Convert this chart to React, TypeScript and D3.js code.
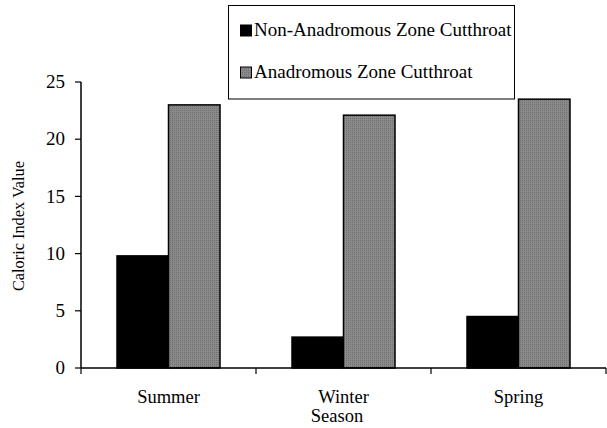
import React from "react";
import * as d3 from "d3";

const seasons = ["Summer", "Winter", "Spring"];
const seriesNames = ["Non-Anadromous Zone Cutthroat", "Anadromous Zone Cutthroat"];
const nonAnadromous = [9.8, 2.7, 4.5];
const anadromous = [23.0, 22.1, 23.5];
const yTicks = [0, 5, 10, 15, 20, 25];

const W = 607, H = 428;
const left = 81, right = 606, top = 82, bottom = 368;
const fontStyle = { fontFamily: '"Liberation Serif", "Times New Roman", serif' };

export default function App() {
  const x = d3.scaleBand<string>().domain(seasons).range([left, right]).paddingInner(0).paddingOuter(0);
  const y = d3.scaleLinear().domain([0, 25]).range([bottom, top]);
  const barW = 51.5;
  const series = [nonAnadromous, anadromous];
  const fills = ["#000", "url(#dots)"];
  return (
    <svg width={W} height={H} style={{ position: "absolute", left: 0, top: 0, background: "#fff" }}>
      <defs>
        <pattern id="dots" width="2" height="2" patternUnits="userSpaceOnUse">
          <rect width="2" height="2" fill="#8a8a8a" />
          <rect width="1" height="1" fill="#707070" />
        </pattern>
      </defs>
      {series.map((vals, si) =>
        seasons.map((s, i) => {
          const cx = (x(s) as number) + x.bandwidth() / 2;
          const x0 = cx - barW + si * barW;
          return (
            <rect key={si + "-" + i} x={x0} y={y(vals[i])} width={barW} height={bottom - y(vals[i])}
              fill={fills[si]} stroke="#000" strokeWidth={1.5} />
          );
        })
      )}
      <line x1={left} x2={left} y1={top} y2={bottom} stroke="#000" strokeWidth={1.5} />
      <line x1={left} x2={right} y1={bottom} y2={bottom} stroke="#000" strokeWidth={1.5} />
      {yTicks.map((t) => (
        <g key={t}>
          <line x1={left - 6} x2={left} y1={y(t)} y2={y(t)} stroke="#000" strokeWidth={1.2} />
          <text x={65} y={y(t)} dy="0.33em" textAnchor="end" style={fontStyle} fontSize={19}>{t}</text>
        </g>
      ))}
      {[...seasons.map((s) => x(s) as number), right].map((v, i) => (
        <line key={i} x1={v} x2={v} y1={bottom} y2={bottom + 6} stroke="#000" strokeWidth={1.2} />
      ))}
      {seasons.map((s) => (
        <text key={s} x={(x(s) as number) + x.bandwidth() / 2} y={403} textAnchor="middle" style={fontStyle} fontSize={18.5}>{s}</text>
      ))}
      <text x={337} y={422} textAnchor="middle" style={fontStyle} fontSize={18.5}>Season</text>
      <text transform={`translate(24,226) rotate(-90)`} textAnchor="middle" style={fontStyle} fontSize={17}
        textLength={130} lengthAdjust="spacingAndGlyphs">Caloric Index Value</text>
      <rect x={228.5} y={5.5} width={286} height={93.5} fill="#fff" stroke="#000" strokeWidth={1} />
      {seriesNames.map((n, i) => (
        <g key={n}>
          <rect x={240.5} y={25 + i * 42} width={11} height={11} fill={fills[i]} stroke="#000" strokeWidth={1} />
          <text x={254} y={36 + i * 42} style={fontStyle} fontSize={19}>{n}</text>
        </g>
      ))}
    </svg>
  );
}
